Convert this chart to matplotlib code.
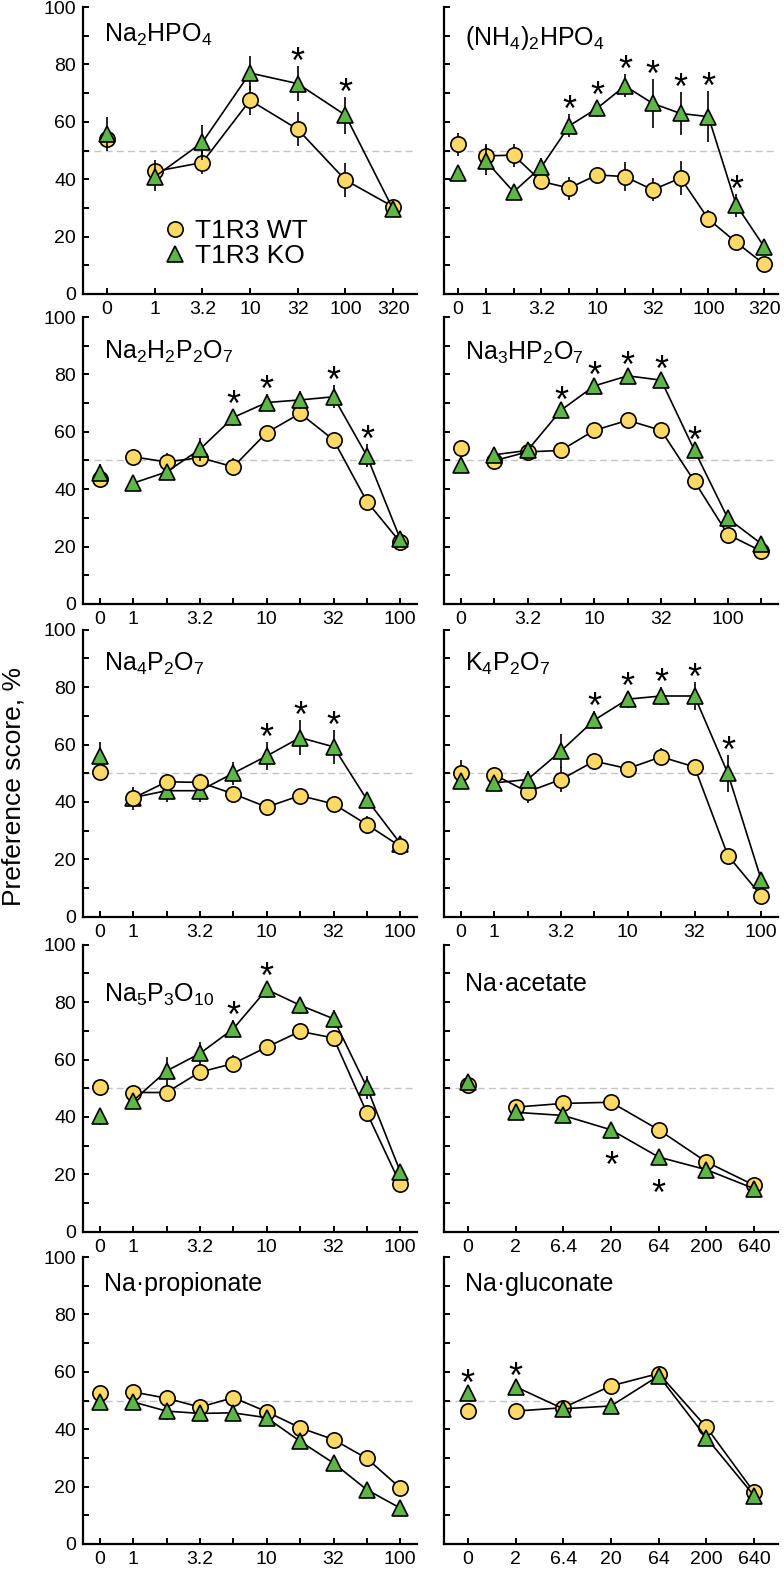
import numpy as np
import matplotlib
matplotlib.use('Agg')
import matplotlib.pyplot as plt
from matplotlib.lines import Line2D

plt.rcParams['font.family'] = ['Liberation Sans', 'DejaVu Sans']
plt.rcParams['mathtext.fontset'] = 'custom'
plt.rcParams['mathtext.rm'] = 'Liberation Sans'
plt.rcParams['mathtext.it'] = 'Liberation Sans:italic'

# concentrations (mM) for each panel type
conc_half = ['0', '1', '3.2', '10', '32', '100', '320']
conc_q320 = ['0', '1', '1.8', '3.2', '5.6', '10', '18', '32', '56', '100', '180', '320']
conc_q100 = ['0', '1', '1.8', '3.2', '5.6', '10', '18', '32', '56', '100']
conc_q180 = ['0', '1.8', '3.2', '5.6', '10', '18', '32', '56', '100', '180']
conc_acid = ['0', '2', '6.4', '20', '64', '200', '640']
labelled = ['0', '1', '3.2', '10', '32', '100', '320', '2', '6.4', '20', '64', '200', '640']

# Na2HPO4
na2hpo4_wt = [54.1, 42.7, 45.8, 67.5, 57.4, 39.7, 30.4]
na2hpo4_wt_err = [2, 4, 4, 5, 6, 6, 2]
na2hpo4_ko = [55.7, 40.8, 52.8, 77.0, 73.3, 62.3, 29.5]
na2hpo4_ko_err = [6, 5, 6, 6, 6, 6.5, 2]
na2hpo4_stars = ['32', '100']

# (NH4)2HPO4
nh4_wt = [52.2, 48.1, 48.4, 39.2, 36.9, 41.5, 40.9, 36.3, 40.4, 26.1, 18.0, 10.4]
nh4_wt_err = [4, 4, 4, 2, 4, 2, 5, 4, 6, 3, 2, 2]
nh4_ko = [42.0, 46.4, 35.6, 44.3, 58.6, 64.7, 72.5, 66.4, 62.9, 61.8, 31.0, 16.5]
nh4_ko_err = [2, 5, 2, 3, 4, 3, 4, 8.5, 7.5, 9, 4, 2]
nh4_stars = ['5.6', '10', '18', '32', '56', '100', '180']

# Na2H2P2O7
na2h2_wt = [43.5, 51.3, 49.5, 51.0, 47.8, 59.7, 66.4, 57.2, 35.7, 21.5]
na2h2_wt_err = [2, 2, 3, 2, 3, 2, 3, 2, 2, 2]
na2h2_ko = [45.8, 42.1, 46.0, 53.9, 65.0, 70.2, 71.1, 72.2, 51.6, 22.6]
na2h2_ko_err = [3, 2, 2, 4, 3, 3, 3, 4, 4, 2]
na2h2_stars = ['5.6', '10', '32', '56']

# Na3HP2O7
na3h_wt = [54.4, 49.9, 53.0, 53.5, 60.5, 64.0, 60.5, 42.7, 24.2, 18.4]
na3h_wt_err = [2, 2, 2, 2, 2, 2, 2, 2, 2, 2]
na3h_ko = [48.5, 52.0, 53.5, 67.5, 76.0, 79.5, 78.0, 53.5, 29.8, 21.0]
na3h_ko_err = [2, 2, 2, 2, 2, 2, 2, 2, 2, 2]
na3h_stars = ['5.6', '10', '18', '32', '56']

# Na4P2O7
na4_wt = [50.5, 41.3, 47.0, 46.8, 42.8, 38.2, 42.2, 39.3, 32.1, 24.5]
na4_wt_err = [2, 4, 2, 2, 2, 2, 2, 2, 3, 2]
na4_ko = [56.0, 41.5, 43.9, 43.9, 50.0, 56.0, 62.4, 59.2, 40.8, 25.5]
na4_ko_err = [5, 2, 4, 4, 4, 5, 6, 6, 2, 2]
na4_stars = ['10', '18', '32']

# K4P2O7
k4_wt = [50.1, 49.5, 43.5, 47.8, 54.2, 51.6, 55.7, 52.2, 21.3, 7.3]
k4_wt_err = [4.5, 2, 4, 4.5, 2, 2, 3, 2, 2, 2]
k4_ko = [47.2, 46.6, 47.8, 57.7, 68.5, 75.8, 76.9, 76.9, 49.9, 12.8]
k4_ko_err = [2, 2, 3, 6, 3, 3, 3, 5, 6.5, 2]
k4_stars = ['5.6', '10', '18', '32', '56']

# Na5P3O10
na5_wt = [50.5, 48.5, 48.5, 55.6, 58.6, 64.3, 69.8, 67.5, 41.4, 16.6]
na5_wt_err = [2, 2, 3, 3, 3, 2, 3, 2, 2, 2]
na5_ko = [40.2, 45.6, 56.0, 62.1, 70.7, 84.4, 78.9, 74.2, 50.3, 20.9]
na5_ko_err = [3, 2, 5, 4, 3, 3, 3, 3, 4, 2]
na5_stars = ['5.6', '10']

# Na acetate
acet_wt = [51.2, 43.4, 44.7, 45.1, 35.5, 24.3, 16.2]
acet_wt_err = [2, 2, 2, 2, 2, 2, 2]
acet_ko = [52.0, 41.6, 40.5, 35.5, 26.0, 21.6, 15.0]
acet_ko_err = [2, 2, 2, 2, 2, 2, 2]
acet_stars = ['20', '64']

# Na propionate
prop_wt = [52.7, 53.0, 50.8, 47.7, 51.0, 46.1, 40.5, 36.4, 29.8, 19.5]
prop_wt_err = [2, 2, 2, 2, 2, 2, 2, 2, 2, 2]
prop_ko = [49.5, 49.5, 46.3, 45.5, 45.7, 44.0, 35.8, 28.2, 18.9, 12.5]
prop_ko_err = [2, 2, 3, 2, 2, 2, 2, 2, 2, 2]
prop_stars = []

# Na gluconate
gluc_wt = [46.3, 46.3, 47.5, 55.1, 59.4, 40.7, 18.0]
gluc_wt_err = [2, 2, 2, 2, 2, 2, 2]
gluc_ko = [52.5, 54.8, 47.1, 48.1, 58.6, 37.0, 16.8]
gluc_ko_err = [2, 2, 2, 2, 2, 2, 2]
gluc_stars = ['0', '2']

WT_COLOR = '#FFD966'
KO_COLOR = '#5DB646'

panels = [
    (r'$\mathregular{Na_2HPO_4}$', conc_half, na2hpo4_wt, na2hpo4_wt_err, na2hpo4_ko, na2hpo4_ko_err, na2hpo4_stars),
    (r'$\mathregular{(NH_4)_2HPO_4}$', conc_q320, nh4_wt, nh4_wt_err, nh4_ko, nh4_ko_err, nh4_stars),
    (r'$\mathregular{Na_2H_2P_2O_7}$', conc_q100, na2h2_wt, na2h2_wt_err, na2h2_ko, na2h2_ko_err, na2h2_stars),
    (r'$\mathregular{Na_3HP_2O_7}$', conc_q180, na3h_wt, na3h_wt_err, na3h_ko, na3h_ko_err, na3h_stars),
    (r'$\mathregular{Na_4P_2O_7}$', conc_q100, na4_wt, na4_wt_err, na4_ko, na4_ko_err, na4_stars),
    (r'$\mathregular{K_4P_2O_7}$', conc_q100, k4_wt, k4_wt_err, k4_ko, k4_ko_err, k4_stars),
    (r'$\mathregular{Na_5P_3O_{10}}$', conc_q100, na5_wt, na5_wt_err, na5_ko, na5_ko_err, na5_stars),
    ('Na·acetate', conc_acid, acet_wt, acet_wt_err, acet_ko, acet_ko_err, acet_stars),
    ('Na·propionate', conc_q100, prop_wt, prop_wt_err, prop_ko, prop_ko_err, prop_stars),
    ('Na·gluconate', conc_acid, gluc_wt, gluc_wt_err, gluc_ko, gluc_ko_err, gluc_stars),
]

# layout (pixels in the 784x1572 figure)
W, H = 784, 1572
col_left = [83, 444]
col_width = 334
row_bottom = [294, 604, 916.7, 1231.7, 1544]
row_height = 287
title_y = [0.88, 0.867, 0.853, 0.85, 0.857, 0.857, 0.80, 0.837, 0.88, 0.88]


def draw_panel(ax, k, title, conc, wt, wt_err, ko, ko_err, stars, left):
    x = np.arange(len(conc))
    ax.axhline(50, color='#c4c4c4', lw=1.0, ls=(0, (5, 3)), zorder=1)

    # KO drawn over WT, except in the Na4P2O7 panel
    ko_top = 4 if k != 4 else 2
    wt_top = 3 if k != 4 else 5
    for vals, errs, col, mk, ms, z in [(wt, wt_err, WT_COLOR, 'o', 11, wt_top),
                                       (ko, ko_err, KO_COLOR, '^', 11.5, ko_top)]:
        vals = np.array(vals)
        ax.errorbar(x, vals, yerr=errs, fmt='none', ecolor='black', elinewidth=1.2, capsize=0, zorder=z)
        ax.plot(x[1:], vals[1:], color='black', lw=1.2, zorder=z)
        ax.plot(x, vals, ls='none', marker=mk, ms=ms, mfc=col, mec='black', mew=1.2, zorder=z + 0.5)

    below = title == 'Na·acetate'
    for s in stars:
        i = conc.index(s)
        if below:
            ax.annotate('*', xy=(i, ko[i] - ko_err[i]), xytext=(0, -30), textcoords='offset points',
                        ha='center', va='baseline', fontsize=26, zorder=6)
        else:
            ax.annotate('*', xy=(i, ko[i] + ko_err[i]), xytext=(0, -5), textcoords='offset points',
                        ha='center', va='baseline', fontsize=26, zorder=6)

    ax.text(0.063, title_y[k], title, transform=ax.transAxes, fontsize=18, va='baseline', ha='left')

    ax.set_xlim(-0.5, len(conc) - 0.5)
    ax.set_ylim(0, 100)
    ax.set_xticks(x)
    ax.set_xticklabels([c if c in labelled else '' for c in conc])
    ax.set_yticks(np.arange(0, 101, 10))
    if left:
        ax.set_yticklabels([str(v) if v % 20 == 0 else '' for v in range(0, 101, 10)])
    else:
        ax.set_yticklabels([])
    ax.tick_params(direction='in', length=4, width=1.4, labelsize=14, pad=5)
    for side in ['top', 'right']:
        ax.spines[side].set_visible(False)
    for side in ['left', 'bottom']:
        ax.spines[side].set_linewidth(1.6)


fig = plt.figure(figsize=(W / 100, H / 100), dpi=100)
axes = []
for k, p in enumerate(panels):
    r, c = divmod(k, 2)
    ax = fig.add_axes([col_left[c] / W, 1 - row_bottom[r] / H, col_width / W, row_height / H])
    draw_panel(ax, k, *p, left=(c == 0))
    axes.append(ax)

handles = [Line2D([], [], ls='none', marker='o', ms=11, mfc=WT_COLOR, mec='black', mew=1.2),
           Line2D([], [], ls='none', marker='^', ms=11.5, mfc=KO_COLOR, mec='black', mew=1.2)]
axes[0].legend(handles, ['T1R3 WT', 'T1R3 KO'], loc='lower left', bbox_to_anchor=(0.24, 0.09),
               frameon=False, fontsize=19, handlelength=0.9, handletextpad=0.3, labelspacing=0.05,
               borderpad=0, borderaxespad=0)

fig.text(0.017, 0.5, 'Preference score, %', rotation=90, va='center', ha='center', fontsize=19)

fig.savefig('out.png', dpi=100)
